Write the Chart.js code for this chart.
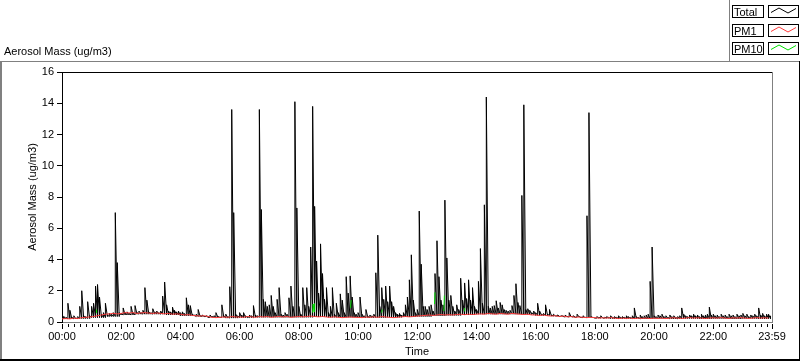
<!DOCTYPE html>
<html>
<head>
<meta charset="utf-8">
<script src="https://cdn.jsdelivr.net/npm/chart.js@4.4.1/dist/chart.umd.min.js"></script>
<style>
  body { margin: 0; background: #fff; }
  canvas { display: block; }
</style>
</head>
<body>
<canvas id="aerosolChart" width="800" height="361"></canvas>
<script>
// Aerosol mass over one day (minutes after midnight on the x axis)

const FONT = 'Liberation Sans, Arial, sans-serif';

// x tick labels (every 2 h, last one at 23:59)
const tickMinutes = [0, 120, 240, 360, 480, 600, 720, 840, 960, 1080, 1200, 1320, 1439];
const tickLabels = ['00:00', '02:00', '04:00', '06:00', '08:00', '10:00', '12:00',
                    '14:00', '16:00', '18:00', '20:00', '22:00', '23:59'];

// Total, peak value of every 4 minute slot
const totalStep = 4;
const totalValues = [
    0.5, 0.35, 0.3, 1.2, 0.75, 0.3, 0.4, 0.25, 0.35, 1.0, 2.0, 0.4, 0.35, 1.3, 0.4, 1.0, 1.2, 2.3, 2.4, 1.6,
    0.5, 0.6, 1.2, 0.45, 0.55, 0.5, 0.6, 7.0, 3.8, 0.6, 0.55, 0.9, 0.6, 0.65, 0.55, 1.0, 0.6, 1.05, 0.6, 0.7,
    0.6, 0.75, 2.2, 1.4, 0.65, 0.6, 0.85, 0.65, 0.7, 0.6, 0.7, 1.66, 2.56, 1.1, 0.7, 0.65, 0.95, 0.75, 0.65, 0.7,
    0.6, 0.65, 0.55, 1.55, 1.1, 1.05, 0.5, 0.45, 0.5, 0.8, 0.4, 0.45, 0.35, 0.4, 0.3, 0.45, 0.35, 0.4, 0.6, 0.35,
    0.3, 1.1, 0.4, 0.5, 0.35, 2.26, 13.6, 7.0, 0.5, 0.4, 0.6, 0.45, 0.6, 0.4, 0.35, 0.45, 0.4, 1.05, 0.45, 0.4,
    13.6, 7.2, 1.45, 1.3, 1.0, 1.1, 1.7, 1.0, 0.6, 1.45, 2.2, 0.5, 0.45, 0.6, 0.5, 1.55, 2.3, 1.0, 14.1, 7.3,
    1.0, 0.5, 2.2, 1.1, 2.2, 1.0, 4.8, 13.8, 7.4, 3.9, 1.85, 5.0, 3.1, 1.45, 2.2, 0.6, 1.0, 2.2, 0.5, 1.2,
    0.6, 1.8, 1.4, 0.6, 2.9, 1.85, 2.95, 1.6, 0.6, 0.5, 0.6, 1.6, 0.5, 0.4, 0.8, 0.35, 0.45, 0.4, 0.5, 3.15,
    5.56, 1.0, 2.2, 1.45, 2.3, 1.3, 2.3, 1.3, 1.0, 0.6, 0.5, 0.55, 0.45, 0.6, 1.1, 1.6, 2.7, 4.3, 1.4, 0.6,
    0.8, 7.1, 3.7, 1.0, 1.0, 0.8, 1.0, 1.1, 0.7, 3.1, 5.2, 2.9, 1.4, 1.1, 7.8, 4.1, 1.4, 1.7, 1.0, 0.7,
    1.1, 0.8, 2.8, 1.4, 2.5, 1.5, 2.7, 1.4, 2.2, 1.0, 0.8, 2.6, 4.7, 1.2, 7.5, 14.4, 1.0, 0.9, 1.0, 1.05,
    1.36, 0.9, 1.25, 1.1, 0.8, 0.75, 0.7, 0.75, 1.05, 1.7, 2.45, 1.25, 1.05, 8.1, 13.9, 0.8, 0.85, 0.75, 0.6, 0.7,
    0.6, 1.2, 0.7, 0.5, 0.55, 1.1, 0.5, 0.8, 0.45, 0.5, 0.4, 0.45, 0.35, 0.4, 0.35, 0.45, 0.35, 0.6, 0.35, 0.4,
    0.3, 0.5, 0.35, 0.3, 0.4, 0.3, 6.8, 13.4, 0.35, 0.3, 0.25, 0.35, 0.3, 0.4, 0.25, 0.3, 0.35, 0.3, 0.4, 0.3,
    0.35, 0.3, 0.4, 0.3, 0.35, 0.3, 0.4, 0.35, 0.3, 0.4, 0.9, 0.35, 0.3, 0.45, 0.35, 0.4, 0.45, 0.5, 2.6, 4.8,
    0.4, 0.35, 0.45, 0.4, 0.5, 0.35, 0.4, 0.3, 0.45, 0.35, 0.4, 0.3, 0.35, 0.4, 0.9, 0.5, 0.4, 0.35, 0.45, 0.4,
    0.5, 0.4, 0.45, 0.35, 0.5, 0.4, 0.45, 0.5, 0.95, 0.45, 0.5, 0.4, 0.45, 0.35, 0.5, 0.4, 0.45, 0.35, 0.5, 0.4,
    0.45, 0.35, 0.5, 0.4, 0.45, 0.55, 0.4, 0.5, 0.35, 0.45, 0.4, 0.5, 0.4, 0.9, 0.45, 0.55, 0.4, 0.5, 0.5, 0.4
];

// Total, low value of every 30 minute block
const floorStep = 30;
const totalFloor = [
    0.2, 0.22, 0.28, 0.35, 0.45, 0.5, 0.5, 0.45, 0.4, 0.35, 0.3, 0.25,
    0.28, 0.3, 0.3, 0.3, 0.3, 0.32, 0.3, 0.3, 0.28, 0.28, 0.3, 0.32,
    0.35, 0.4, 0.42, 0.45, 0.5, 0.5, 0.5, 0.48, 0.42, 0.38, 0.32, 0.28,
    0.25, 0.22, 0.22, 0.2, 0.22, 0.2, 0.22, 0.2, 0.22, 0.2, 0.22, 0.2
];

// PM1, one value every 8 minutes
const pm1Step = 8;
const pm1Values = [
    0.2, 0.22, 0.2, 0.25, 0.22, 0.28, 0.3, 0.32, 0.35, 0.4, 0.45, 0.5, 0.52, 0.55, 0.52,
    0.55, 0.6, 0.58, 0.6, 0.55, 0.58, 0.6, 0.57, 0.55, 0.58, 0.55, 0.52, 0.55, 0.5, 0.52,
    0.5, 0.45, 0.47, 0.42, 0.4, 0.38, 0.4, 0.35, 0.3, 0.28, 0.3, 0.32, 0.3, 0.35, 0.32,
    0.32, 0.3, 0.35, 0.33, 0.3, 0.35, 0.32, 0.35, 0.3, 0.33, 0.35, 0.32, 0.35, 0.3, 0.33,
    0.35, 0.33, 0.35, 0.38, 0.35, 0.33, 0.35, 0.32, 0.3, 0.33, 0.3, 0.28, 0.3, 0.32, 0.3,
    0.3, 0.28, 0.32, 0.3, 0.33, 0.3, 0.35, 0.32, 0.3, 0.28, 0.3, 0.33, 0.35, 0.33, 0.35,
    0.38, 0.4, 0.42, 0.45, 0.42, 0.45, 0.48, 0.45, 0.47, 0.45, 0.48, 0.5, 0.47, 0.5, 0.48,
    0.5, 0.52, 0.5, 0.55, 0.52, 0.5, 0.55, 0.52, 0.5, 0.55, 0.52, 0.5, 0.48, 0.5, 0.45,
    0.45, 0.42, 0.45, 0.4, 0.38, 0.4, 0.35, 0.38, 0.33, 0.35, 0.3, 0.32, 0.3, 0.28, 0.3,
    0.28, 0.25, 0.27, 0.25, 0.28, 0.25, 0.22, 0.25, 0.23, 0.25, 0.22, 0.25, 0.23, 0.25, 0.22,
    0.25, 0.23, 0.25, 0.22, 0.25, 0.27, 0.25, 0.23, 0.25, 0.28, 0.25, 0.27, 0.25, 0.23, 0.25,
    0.27, 0.25, 0.28, 0.25, 0.23, 0.27, 0.25, 0.28, 0.25, 0.23, 0.25, 0.28, 0.25, 0.27, 0.25
];

// PM10, only the short pieces that show through (null = gap)
const pm10Minutes = [69, 70, 71, 508, 509, 511, 512, 513, 585, 586, 587, 648, 649, 650, 755, 756, 757, 774, 775, 776, 815, 816];
const pm10Values  = [0.6, 0.8, null, 0.6, 1.15, 0.65, 1.2, null, 0.9, 1.4, null, 0.6, 0.8, null, 1.15, 1.9, null, 0.7, 1.7, null, 0.7, 0.9];

const seriesNames = ['Total', 'PM1', 'PM10'];
const seriesColors = ['#000000', '#ff3b3b', '#00e000'];

// build point lists: each Total slot is a vertical stroke from block low to slot peak
const totalPoints = [];
totalValues.forEach((v, i) => {
    const m = i * totalStep;
    totalPoints.push({ x: m, y: totalFloor[Math.floor(m / floorStep)] });
    totalPoints.push({ x: m, y: v });
});
const pm1Points = pm1Values.map((v, i) => ({ x: i * pm1Step, y: v }));
const pm10Points = pm10Minutes.map((m, i) => ({ x: m, y: pm10Values[i] }));

// background, frame, title label and legend
const framePlugin = {
    id: 'frame',
    beforeDraw(chart) {
        const ctx = chart.ctx;
        ctx.save();
        ctx.fillStyle = '#fff';
        ctx.fillRect(0, 0, chart.width, chart.height);

        // outer panel
        ctx.fillStyle = '#808080';
        ctx.fillRect(0, 61, 799, 1);
        ctx.fillRect(0, 61, 2, 299);
        ctx.fillStyle = '#000';
        ctx.fillRect(0, 359, 800, 2);
        ctx.fillRect(799, 61, 1, 300);
        ctx.fillStyle = '#808080';
        ctx.fillRect(729, 0, 1, 61);

        ctx.fillStyle = '#000';
        ctx.font = '11px ' + FONT;
        ctx.textBaseline = 'alphabetic';
        ctx.fillText('Aerosol Mass (ug/m3)', 4, 55);

        // legend
        const rows = [5.5, 24.5, 42.5];
        rows.forEach((top, i) => {
            ctx.fillStyle = '#fff';
            ctx.fillRect(732, top, 31, 12);
            ctx.fillRect(768, top, 30, 12);
            ctx.strokeStyle = '#000';
            ctx.lineWidth = 1;
            ctx.strokeRect(732.5, top, 31, 12);
            ctx.strokeRect(768.5, top, 30, 12);
            ctx.fillStyle = '#000';
            ctx.font = '11px ' + FONT;
            ctx.fillText(seriesNames[i], 734, top + 10.5);
            ctx.strokeStyle = seriesColors[i];
            ctx.beginPath();
            ctx.moveTo(771, top + 7);
            ctx.lineTo(779, top + 2.5);
            ctx.lineTo(788, top + 7.5);
            ctx.lineTo(796, top + 3);
            ctx.stroke();
        });
        ctx.restore();
    },
    afterDraw(chart) {
        const ctx = chart.ctx;
        const area = chart.chartArea;
        const xs = chart.scales.x;
        ctx.save();
        // top and right edge of the plot
        ctx.fillStyle = '#000';
        ctx.fillRect(area.left, area.top, area.right - area.left, 1);
        ctx.fillStyle = '#808080';
        ctx.fillRect(area.right, area.top, 1, area.bottom - area.top + 1);

        // x tick marks: minor every 12 min, major every 2 h
        ctx.fillStyle = '#000';
        for (let m = 0; m < 1439; m += 12) {
            const px = Math.round(xs.getPixelForValue(m));
            ctx.fillRect(px, area.bottom + 2, 1, m % 120 === 0 ? 5 : 3);
        }
        ctx.fillRect(Math.round(xs.getPixelForValue(1439)), area.bottom + 2, 1, 5);
        ctx.restore();
    }
};

const ctx = document.getElementById('aerosolChart').getContext('2d');
new Chart(ctx, {
    type: 'line',
    data: {
        datasets: [
            {
                label: seriesNames[2],
                data: pm10Points,
                borderColor: seriesColors[2],
                borderWidth: 1,
                pointRadius: 0,
                spanGaps: false,
                order: 1
            },
            {
                label: seriesNames[1],
                data: pm1Points,
                borderColor: seriesColors[1],
                borderWidth: 1,
                pointRadius: 0,
                order: 2
            },
            {
                label: seriesNames[0],
                data: totalPoints,
                borderColor: seriesColors[0],
                borderWidth: 1,
                pointRadius: 0,
                order: 3
            }
        ]
    },
    options: {
        responsive: false,
        animation: false,
        events: [],
        layout: { padding: { left: 0, right: 28, top: 72, bottom: 0 } },
        plugins: {
            legend: { display: false },
            tooltip: { enabled: false },
            title: { display: false }
        },
        scales: {
            x: {
                type: 'linear',
                min: 0,
                max: 1439,
                afterBuildTicks: (scale) => {
                    scale.ticks = tickMinutes.map(v => ({ value: v }));
                },
                afterFit: (scale) => {
                    scale.height = 39;
                    scale.paddingLeft = 0;
                    scale.paddingRight = 0;
                },
                ticks: {
                    autoSkip: false,
                    maxRotation: 0,
                    padding: 1,
                    color: '#000',
                    font: { family: FONT, size: 11 },
                    callback: (value) => tickLabels[tickMinutes.indexOf(value)]
                },
                grid: {
                    drawOnChartArea: false,
                    drawTicks: true,
                    tickLength: 7,
                    tickColor: 'rgba(0,0,0,0)'
                },
                border: { color: '#808080', width: 1 },
                title: {
                    display: true,
                    text: 'Time',
                    color: '#000',
                    font: { family: FONT, size: 11 },
                    padding: { top: 0, bottom: 2 }
                }
            },
            y: {
                min: 0,
                max: 16,
                afterFit: (scale) => {
                    scale.width = 62;
                    scale.paddingTop = 0;
                    scale.paddingBottom = 0;
                },
                ticks: {
                    stepSize: 2,
                    padding: 3,
                    color: '#000',
                    font: { family: FONT, size: 11 }
                },
                grid: {
                    drawOnChartArea: false,
                    drawTicks: true,
                    tickLength: 5,
                    tickColor: '#000'
                },
                border: { color: '#000', width: 1 },
                title: {
                    display: true,
                    text: 'Aerosol Mass (ug/m3)',
                    color: '#000',
                    font: { family: FONT, size: 11 },
                    padding: { top: 26, bottom: 0 }
                }
            }
        }
    },
    plugins: [framePlugin]
});
</script>
</body>
</html>
